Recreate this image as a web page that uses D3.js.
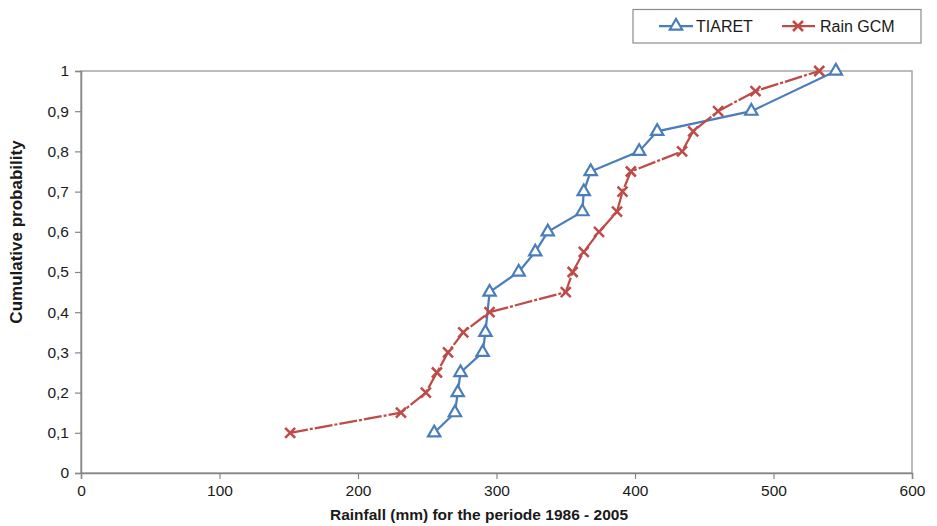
<!DOCTYPE html>
<html>
<head>
<meta charset="utf-8">
<script src="https://cdn.jsdelivr.net/npm/d3@7"></script>
<style>
  html, body { margin: 0; padding: 0; background: #fff; }
  svg { display: block; font-family: "Liberation Sans", Arial, sans-serif; }
</style>
</head>
<body>
<svg id="chart" width="937" height="526"></svg>
<script>
// ---- data ----
const tiaretProb = [0.1, 0.15, 0.2, 0.25, 0.3, 0.35, 0.45, 0.5, 0.55, 0.6, 0.65, 0.7, 0.75, 0.8, 0.85, 0.9, 1.0];
const tiaretRain = [255, 270, 272, 274, 290, 292, 295, 316, 328, 337, 362, 363, 368, 403, 416, 484, 545];
const gcmProb = [0.1, 0.15, 0.2, 0.25, 0.3, 0.35, 0.4, 0.45, 0.5, 0.55, 0.6, 0.65, 0.7, 0.75, 0.8, 0.85, 0.9, 0.95, 1.0];
const gcmRain = [151, 231, 249, 257, 265, 276, 295, 350, 355, 363, 374, 387, 391, 397, 434, 442, 460, 487, 533];
const xTicks = [0, 100, 200, 300, 400, 500, 600];
const yTicks = [0, 0.1, 0.2, 0.3, 0.4, 0.5, 0.6, 0.7, 0.8, 0.9, 1];
const seriesNames = ["TIARET", "Rain GCM"];
const xTitle = "Rainfall (mm) for the periode 1986 - 2005";
const yTitle = "Cumulative probability";

(function () {
// ---- layout ----
const svg = d3.select("#chart");
const pLeft = 81, pRight = 912, pTop = 71, pBottom = 473;
const x = d3.scaleLinear().domain([0, 600]).range([pLeft, pRight]);
const y = d3.scaleLinear().domain([0, 1]).range([pBottom, pTop]);
const blue = "#4A7EBB", red = "#BE4B48";
const axisColor = "#868686";
const dash = "18,2,3,2";

// plot border (top/right)
svg.append("rect")
  .attr("x", pLeft).attr("y", pTop)
  .attr("width", pRight - pLeft).attr("height", pBottom - pTop)
  .attr("fill", "none").attr("stroke", "#a6a6a6").attr("stroke-width", 1.5);

// axes
const fmt = d => d === 0 ? "0" : d === 1 ? "1" : d3.format(".1f")(d).replace(".", ",");
const yAxis = svg.append("g").attr("transform", `translate(${pLeft},0)`)
  .call(d3.axisLeft(y).tickValues(yTicks).tickFormat(fmt).tickSize(6).tickPadding(6));
const xAxis = svg.append("g").attr("transform", `translate(0,${pBottom})`)
  .call(d3.axisBottom(x).tickValues(xTicks).tickFormat(d3.format("d")).tickSize(6).tickPadding(6));
[xAxis, yAxis].forEach(g => {
  g.select(".domain").attr("stroke", axisColor).attr("stroke-width", 1.5);
  g.selectAll(".tick line").attr("stroke", axisColor).attr("stroke-width", 1.2);
  g.selectAll(".tick text").attr("fill", "#1a1a1a").style("font-size", "15.5px");
});

// titles
svg.append("text")
  .attr("x", 479).attr("y", 520)
  .attr("text-anchor", "middle")
  .style("font-size", "15.5px").style("font-weight", "bold").attr("fill", "#1a1a1a")
  .text(xTitle);
svg.append("text")
  .attr("transform", "translate(22,232) rotate(-90)")
  .attr("text-anchor", "middle")
  .style("font-size", "17px").style("font-weight", "bold").attr("fill", "#1a1a1a")
  .text(yTitle);

// series
const tiaret = tiaretProb.map((p, i) => ({ x: tiaretRain[i], y: p }));
const gcm = gcmProb.map((p, i) => ({ x: gcmRain[i], y: p }));
const line = d3.line().x(d => x(d.x)).y(d => y(d.y));

svg.append("path").datum(tiaret)
  .attr("d", line).attr("fill", "none")
  .attr("stroke", blue).attr("stroke-width", 2.25);

svg.append("path").datum(gcm)
  .attr("d", line).attr("fill", "none")
  .attr("stroke", red).attr("stroke-width", 2.25)
  .attr("stroke-dasharray", dash);

const tri = d3.symbol().type(d3.symbolTriangle).size(66);
const cross = "M-5,-5L5,5M-5,5L5,-5";

svg.append("g").selectAll("path").data(tiaret).join("path")
  .attr("transform", d => `translate(${x(d.x)},${y(d.y)})`)
  .attr("d", tri).attr("fill", "#fff").attr("stroke", blue).attr("stroke-width", 2.2);

svg.append("g").selectAll("path").data(gcm).join("path")
  .attr("transform", d => `translate(${x(d.x)},${y(d.y)})`)
  .attr("d", cross).attr("fill", "none").attr("stroke", red).attr("stroke-width", 2.5);

// legend
const lg = svg.append("g");
lg.append("rect").attr("x", 633).attr("y", 9.5).attr("width", 288).attr("height", 33.5)
  .attr("fill", "#fff").attr("stroke", "#8c8c8c").attr("stroke-width", 1.2);
const ly = 26;
lg.append("line").attr("x1", 659).attr("x2", 693).attr("y1", ly).attr("y2", ly)
  .attr("stroke", blue).attr("stroke-width", 2.25);
lg.append("path").attr("transform", `translate(676,${ly})`).attr("d", tri)
  .attr("fill", "#fff").attr("stroke", blue).attr("stroke-width", 2.2);
lg.append("text").attr("x", 696).attr("y", ly + 6).style("font-size", "16px").attr("fill", "#1a1a1a").text(seriesNames[0]);
lg.append("line").attr("x1", 782).attr("x2", 815).attr("y1", ly).attr("y2", ly)
  .attr("stroke", red).attr("stroke-width", 2.25);
lg.append("path").attr("transform", `translate(798,${ly})`).attr("d", cross)
  .attr("fill", "none").attr("stroke", red).attr("stroke-width", 2.5);
lg.append("text").attr("x", 820).attr("y", ly + 6).style("font-size", "16px").attr("fill", "#1a1a1a").text(seriesNames[1]);
})();
</script>
</body>
</html>
